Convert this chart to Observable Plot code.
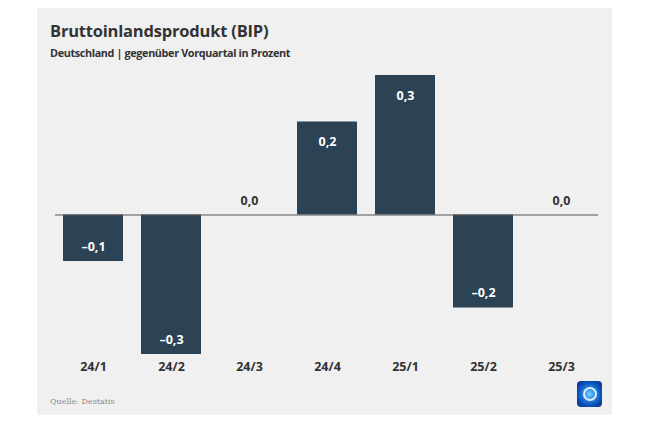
<!DOCTYPE html>
<html>
<head>
<meta charset="utf-8">
<script src="https://cdn.jsdelivr.net/npm/d3@7"></script>
<script src="https://cdn.jsdelivr.net/npm/@observablehq/plot@0.6"></script>
<style>
  body { margin: 0; background: #fff; font-family: "Open Sans", "Noto Sans", sans-serif; }
  #panel { position: absolute; left: 37px; top: 8px; width: 575px; height: 407px; background: #f0f0f0; }
  #title { position: absolute; left: 13px; top: 11px; font-size: 16.5px; font-weight: 700; color: #333; letter-spacing: -0.2px; }
  #subtitle { position: absolute; left: 13px; top: 37px; font-size: 10.8px; font-weight: 700; color: #333; letter-spacing: -0.35px; }
  #chart { position: absolute; left: 0; top: 52px; }
  #source { position: absolute; left: 13px; top: 389px; font-family: "DejaVu Serif", serif; font-size: 8px; color: #888; }
  #logo { position: absolute; left: 540px; top: 373px; width: 25px; height: 26px; border-radius: 4px;
          background: radial-gradient(circle at 50% 50%, #7fd0ff 0, #2a8fe8 30%, #0a4fb8 65%, #05307a 100%); }
  #logo::after { content: ""; position: absolute; left: 6px; top: 6px; width: 10px; height: 10px; border-radius: 50%;
          border: 2px solid rgba(255,255,255,0.85); }
</style>
</head>
<body>
<div id="panel">
  <div id="title">Bruttoinlandsprodukt (BIP)</div>
  <div id="subtitle">Deutschland | gegenüber Vorquartal in Prozent</div>
  <div id="chart"></div>
  <div id="source">Quelle: Destatis</div>
  <div id="logo"></div>
</div>
<script>
// Quartale und Veränderung gegenüber Vorquartal (%)
const quarters = ['24/1', '24/2', '24/3', '24/4', '25/1', '25/2', '25/3']
const values = [-0.1, -0.3, 0.0, 0.2, 0.3, -0.2, 0.0]

const data = quarters.map((q, i) => ({quarter: q, value: values[i]}))
const fmt = v => (v < 0 ? '\u2013' : '') + Math.abs(v).toFixed(1).replace('.', ',')
const barColor = '#2b4354'

let chart = Plot.plot({
  width: 575,
  height: 338,
  marginLeft: 18,
  marginRight: 14,
  marginTop: 15,
  marginBottom: 44,
  style: {background: 'transparent', fontFamily: '"Open Sans", sans-serif'},
  x: {domain: quarters, paddingInner: 0.233, paddingOuter: 0.087, label: null},
  y: {domain: [-0.3, 0.3], axis: null},
  marks: [
    Plot.barY(data, {x: 'quarter', y: 'value', fill: barColor}),
    Plot.ruleY([0], {stroke: '#555', strokeWidth: 1.2}),
    Plot.axisX({tickSize: 0, tickPadding: 8, fontSize: 12.5, fontWeight: 700, fill: '#333'}),
    Plot.text(data.filter(d => d.value > 0), {x: 'quarter', y: 'value', text: d => fmt(d.value), dy: 20, fill: 'white', fontSize: 12.5, fontWeight: 700}),
    Plot.text(data.filter(d => d.value < 0), {x: 'quarter', y: 'value', text: d => fmt(d.value), dy: -15, fill: 'white', fontSize: 12.5, fontWeight: 700}),
    Plot.text(data.filter(d => d.value === 0), {x: 'quarter', y: 'value', text: d => fmt(d.value), dy: -14, fill: '#333', fontSize: 12.5, fontWeight: 700})
  ]
})
d3.select('#chart').append(() => chart)
</script>
</body>
</html>
